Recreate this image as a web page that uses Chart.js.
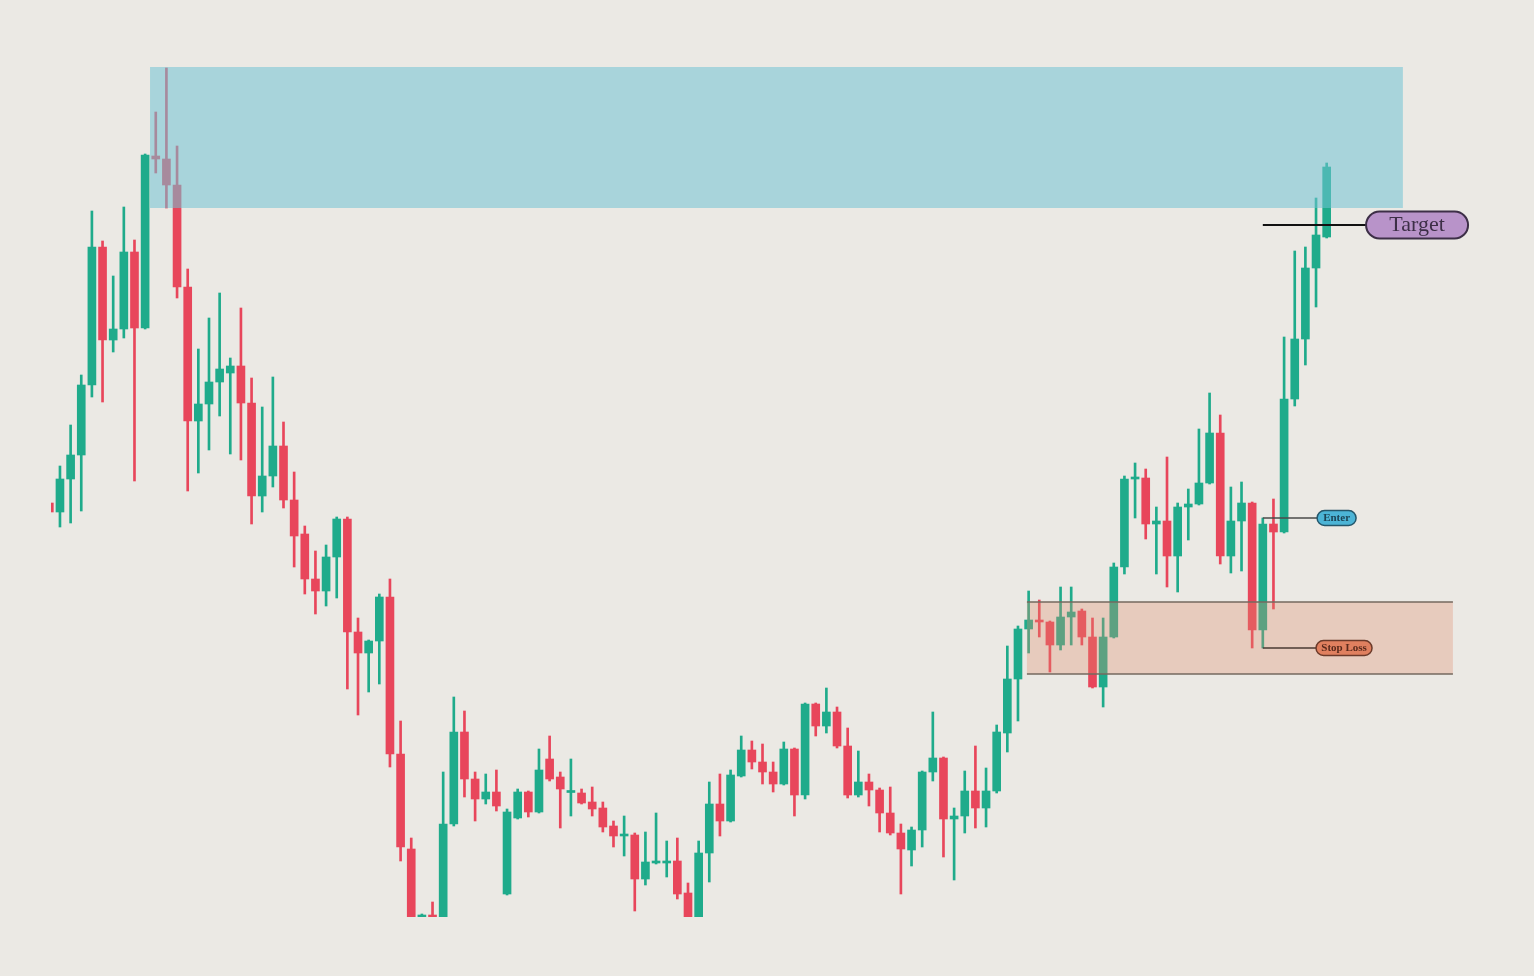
<!DOCTYPE html>
<html>
<head>
<meta charset="utf-8">
<script src="https://cdn.jsdelivr.net/npm/chart.js@4.4.1/dist/chart.umd.min.js"></script>
<style>
  html, body { margin: 0; padding: 0; background: #ebe9e4; }
  #wrap { width: 1534px; height: 976px; }
</style>
</head>
<body>
<div id="wrap"><canvas id="c" width="1534" height="976"></canvas></div>
<script>
// ---- data (prices) ----
const opens = [
  182.8,181.0,187.6,192.4,206.4,234.0,215.4,217.6,233.0,217.8,
  252.2,251.6,246.4,226.0,199.2,202.6,207.0,208.8,210.2,202.8,
  184.2,188.2,194.2,183.4,176.6,167.6,165.2,172.0,179.6,157.0,
  152.8,155.2,164.0,132.6,113.6,100.0,100.4,99.0,118.6,137.0,
  127.6,123.6,125.0,104.6,119.8,125.0,121.0,131.6,128.0,124.9,
  124.8,123.0,121.8,118.2,116.2,116.4,107.6,110.8,110.8,111.2,
  104.8,99.0,112.8,122.6,119.2,128.2,133.4,131.0,129.0,126.6,
  133.6,124.4,142.6,138.2,141.0,134.2,124.4,127.0,125.4,120.8,
  116.8,113.4,117.4,129.0,131.8,119.6,120.2,125.2,121.8,125.2,
  136.8,147.6,157.6,159.4,159.0,154.4,160.0,161.2,156.0,146.0,
  156.0,170.0,187.6,187.8,178.6,179.2,172.2,182.0,182.6,186.8,
  196.8,172.2,179.2,182.8,157.4,178.6,177.0,203.6,215.6,229.8,
  236.0
];
const closes = [
  181.0,187.6,192.4,206.4,234.0,215.4,217.6,233.0,217.8,252.4,
  251.6,246.4,226.0,199.2,202.6,207.0,209.6,210.2,202.8,184.2,
  188.2,194.2,183.4,176.2,167.6,165.2,172.0,179.6,157.0,152.8,
  155.2,164.0,132.6,114.0,99.0,100.4,100.0,118.6,137.0,127.6,
  123.6,125.0,122.2,121.0,125.0,121.0,129.4,127.6,125.6,125.3,
  122.8,121.6,118.0,116.2,116.6,107.6,111.0,111.2,111.2,104.6,
  99.0,112.8,122.6,119.2,128.4,133.4,131.0,129.0,126.6,133.6,
  124.4,142.6,138.2,141.0,134.2,124.4,127.0,125.4,120.8,116.8,
  113.6,117.4,129.0,131.8,119.6,120.2,125.2,121.8,125.2,137.0,
  147.6,157.6,159.4,159.0,154.4,160.0,161.0,156.0,146.0,156.0,
  170.0,187.6,188.0,178.6,179.2,172.2,182.0,182.6,186.8,196.8,
  172.2,179.2,182.8,157.4,178.6,177.0,203.6,215.6,229.8,236.4,
  250.0
];
const highs = [
  182.8,190.2,198.4,208.4,241.2,235.2,228.2,242.0,235.4,252.6,
  261.0,269.8,254.2,229.6,213.6,219.8,224.8,211.8,221.8,207.8,
  202.0,208.0,199.0,189.0,178.2,173.2,174.4,180.0,180.0,159.8,
  155.4,164.6,167.6,139.2,115.8,100.6,103.0,129.0,144.0,141.2,
  129.0,128.6,129.4,121.6,125.6,125.2,133.6,136.2,129.0,131.6,
  125.6,126.0,123.0,119.2,120.2,116.8,117.0,120.8,115.2,115.8,
  106.8,115.2,127.0,128.6,129.4,136.2,135.2,134.6,131.0,135.0,
  133.8,142.8,142.8,145.8,142.0,137.8,133.2,128.6,125.8,126.0,
  118.6,118.0,129.2,141.0,132.0,121.8,129.2,134.2,129.8,138.4,
  154.2,158.2,165.2,163.4,159.2,166.0,166.0,161.6,159.8,159.8,
  170.8,188.2,190.8,189.6,182.0,192.0,182.8,185.6,197.6,204.8,
  200.4,186.0,187.0,183.0,179.8,183.6,216.0,233.2,234.0,243.8,
  250.8
];
const lows = [
  180.8,178.0,178.8,181.2,204.0,203.0,213.0,215.8,187.2,217.6,
  248.8,241.8,223.8,185.2,188.8,193.4,200.2,192.6,191.4,178.6,
  181.0,186.0,181.8,170.0,164.6,160.6,162.2,163.8,145.6,140.4,
  145.0,146.6,130.0,111.2,97.5,98.0,98.0,97.0,118.2,124.0,
  119.2,122.6,121.2,104.4,119.6,120.0,120.8,127.2,117.8,120.2,
  122.6,120.2,117.0,114.0,112.2,101.2,106.4,110.6,108.0,103.6,
  97.5,97.5,107.0,116.2,119.0,128.0,129.6,126.6,125.0,126.4,
  120.2,123.6,136.2,136.8,133.8,123.8,124.0,122.2,117.0,116.4,
  104.6,110.2,114.0,127.2,112.0,107.4,116.8,117.8,118.0,124.8,
  133.0,139.2,152.8,156.0,149.0,153.4,154.4,154.4,145.8,142.0,
  155.8,168.6,179.8,175.6,168.6,166.0,165.0,175.4,182.4,186.6,
  170.6,168.8,169.2,153.8,153.8,161.6,176.8,202.2,210.4,222.0,
  235.8
];
const labels = opens.map((_, i) => String(i + 1));

// ---- trade annotation values ----
const targetZoneX = [9.46, 127.16];   // candle index range
const targetZoneY = [241.8, 270.0];   // price range
const stopZoneX = [91.84, 131.86];
const stopZoneY = [148.6, 163.0];
const labelTexts = ['Target', 'Enter', 'Stop Loss'];
const labelPrices = [238.4, 179.8, 153.8];
const labelIndexes = [123.7, 119.1, 119.0];
const lineStartIndexes = [114.0, 114.0, 114.0];

const UP = '#1fab8b', DOWN = '#e8465b';
const colors = opens.map((o, i) => closes[i] >= o ? UP : DOWN);

const overlayPlugin = {
  id: 'overlay',
  beforeDraw(chart) {
    const ctx = chart.ctx;
    ctx.save();
    ctx.fillStyle = '#ebe9e4';
    ctx.fillRect(0, 0, chart.width, chart.height);
    ctx.restore();
  },
  afterDatasetsDraw(chart) {
    const ctx = chart.ctx;
    const xs = chart.scales.x, ys = chart.scales.y;
    ctx.save();
    // target zone
    let x1 = xs.getPixelForValue(targetZoneX[0]), x2 = xs.getPixelForValue(targetZoneX[1]);
    let y1 = ys.getPixelForValue(targetZoneY[1]), y2 = ys.getPixelForValue(targetZoneY[0]);
    ctx.fillStyle = 'rgba(113,194,212,0.55)';
    ctx.fillRect(x1, y1, x2 - x1, y2 - y1);
    // stop zone
    x1 = xs.getPixelForValue(stopZoneX[0]); x2 = xs.getPixelForValue(stopZoneX[1]);
    y1 = ys.getPixelForValue(stopZoneY[1]); y2 = ys.getPixelForValue(stopZoneY[0]);
    ctx.fillStyle = 'rgba(224,140,110,0.32)';
    ctx.fillRect(x1, y1, x2 - x1, y2 - y1);
    ctx.strokeStyle = '#75695f';
    ctx.lineWidth = 1.5;
    ctx.beginPath();
    ctx.moveTo(x1, y1); ctx.lineTo(x2, y1);
    ctx.moveTo(x1, y2); ctx.lineTo(x2, y2);
    ctx.stroke();

    // labels
    const styles = [
      { w: 102, h: 27, fill: '#b893c9', stroke: '#3d2f47', text: '#3d2f47', font: '22px "Liberation Serif", "DejaVu Serif", serif', lw: 2, line: '#111111', lineW: 2 },
      { w: 39, h: 15, fill: '#4cb4d6', stroke: '#24566a', text: '#1c4456', font: 'bold 11px "Liberation Serif", "DejaVu Serif", serif', lw: 1.5, line: '#4a4a4a', lineW: 1.5 },
      { w: 56, h: 15, fill: '#e0805f', stroke: '#6b3a2a', text: '#5a2a1c', font: 'bold 11px "Liberation Serif", "DejaVu Serif", serif', lw: 1.5, line: '#4a3a33', lineW: 1.5 }
    ];
    labelTexts.forEach((t, k) => {
      const s = styles[k];
      const y = ys.getPixelForValue(labelPrices[k]);
      const lx = xs.getPixelForValue(labelIndexes[k]);
      const sx = xs.getPixelForValue(lineStartIndexes[k]);
      ctx.strokeStyle = s.line;
      ctx.lineWidth = s.lineW;
      ctx.beginPath();
      ctx.moveTo(sx, y); ctx.lineTo(lx, y);
      ctx.stroke();
      const r = s.h / 2;
      ctx.beginPath();
      ctx.roundRect(lx, y - s.h / 2, s.w, s.h, r);
      ctx.fillStyle = s.fill;
      ctx.fill();
      ctx.lineWidth = s.lw;
      ctx.strokeStyle = s.stroke;
      ctx.stroke();
      ctx.fillStyle = s.text;
      ctx.font = s.font;
      ctx.textAlign = 'center';
      ctx.textBaseline = 'middle';
      ctx.fillText(t, lx + s.w / 2, y + 0.5);
    });
    ctx.restore();
  }
};

const clipEdges = { left: -7, right: 0, top: 0, bottom: 0 };

new Chart(document.getElementById('c'), {
  type: 'bar',
  data: {
    labels,
    datasets: [
      {
        label: 'wick',
        data: lows.map((l, i) => [l, highs[i]]),
        backgroundColor: colors,
        barThickness: 2,
        grouped: false,
        clip: clipEdges,
        order: 2
      },
      {
        label: 'body',
        data: opens.map((o, i) => [o, closes[i]]),
        backgroundColor: colors,
        barThickness: 8,
        minBarLength: 2,
        grouped: false,
        clip: clipEdges,
        order: 1
      }
    ]
  },
  options: {
    responsive: false,
    devicePixelRatio: 1,
    animation: false,
    events: [],
    layout: { padding: { left: 44, right: 202, top: 0, bottom: 59 } },
    plugins: { legend: { display: false }, tooltip: { enabled: false } },
    scales: {
      x: { display: false, offset: true, grid: { display: false } },
      y: { display: false, min: 100, max: 283.4, grid: { display: false } }
    }
  },
  plugins: [overlayPlugin]
});
</script>
</body>
</html>
